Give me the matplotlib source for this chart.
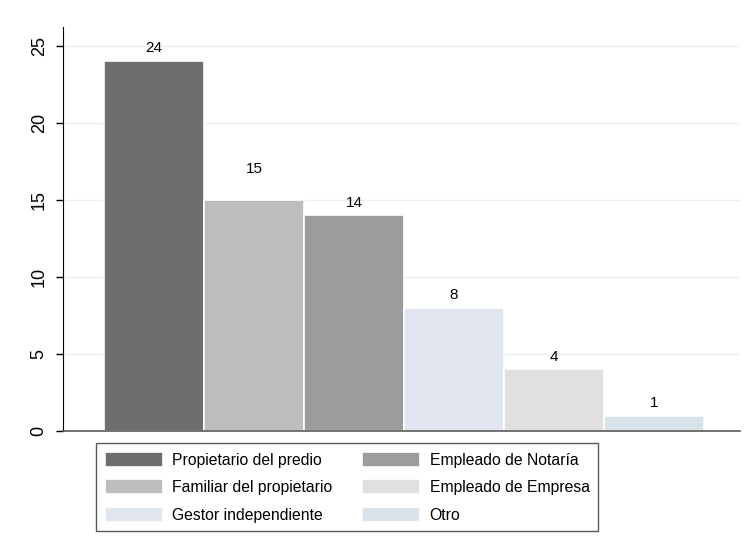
import matplotlib.pyplot as plt
import numpy as np

plt.rcParams['font.family'] = ['Liberation Sans', 'DejaVu Sans']

# data
categories = ['Propietario del predio', 'Familiar del propietario', 'Empleado de Notaría',
              'Gestor independiente', 'Empleado de Empresa', 'Otro']
counts = [24, 15, 14, 8, 4, 1]
colors = ['#6e6e6e', '#bdbdbd', '#9c9c9c', '#e1e5f0', '#e0e0e0', '#d8e4ea']
yticks = [0, 5, 10, 15, 20, 25]
# label offsets in points (Stata moved the "15" up)
label_pad = [4, 17, 4, 4, 4, 4]

fig = plt.figure(figsize=(7.53, 5.52), dpi=100)
ax = fig.add_axes([63/753, 1-431/552, (740-63)/753, (431-27)/552])

x = np.arange(len(counts))
bars = ax.bar(x, counts, width=1.0, align='edge', color=colors,
              edgecolor='white', linewidth=1.2, zorder=2)

for b, v, p in zip(bars, counts, label_pad):
    ax.annotate(str(v), (b.get_x() + b.get_width()/2, v), xytext=(0, p),
                textcoords='offset points', ha='center', va='bottom', fontsize=11)

ax.set_xlim(-0.41, 6.36)
ax.set_ylim(0, 26.2)
ax.set_yticks(yticks)
ax.set_yticklabels([str(t) for t in yticks], rotation=90, va='center', fontsize=13)
ax.set_xticks([])
ax.yaxis.grid(True, color='#eaf2f3', linewidth=1, zorder=0)
ax.set_axisbelow(True)
ax.tick_params(axis='y', length=5, width=1, color='black', pad=6)

for s in ['top', 'right']:
    ax.spines[s].set_visible(False)
ax.spines['left'].set_color('black')
ax.spines['bottom'].set_color('#5a5a5a')
ax.spines['bottom'].set_linewidth(1.2)

# legend, column order
order = [0, 1, 3, 2, 4, 5]
handles = [bars[i] for i in order]
labels = [categories[i] for i in order]
leg = fig.legend(handles, labels, ncol=2, loc='upper left',
                 bbox_to_anchor=(96/753, 1-443/552), borderaxespad=0,
                 prop={'size': 11.3},
                 handlelength=3.7, handleheight=1.1, handletextpad=0.6,
                 columnspacing=1.9, labelspacing=0.75, borderpad=0.55,
                 fancybox=False, framealpha=1, edgecolor='#5a5a5a')
leg.get_frame().set_linewidth(1)
for h in leg.legend_handles:
    h.set_edgecolor('white')

fig.savefig('out.png', dpi=100, facecolor='white')
